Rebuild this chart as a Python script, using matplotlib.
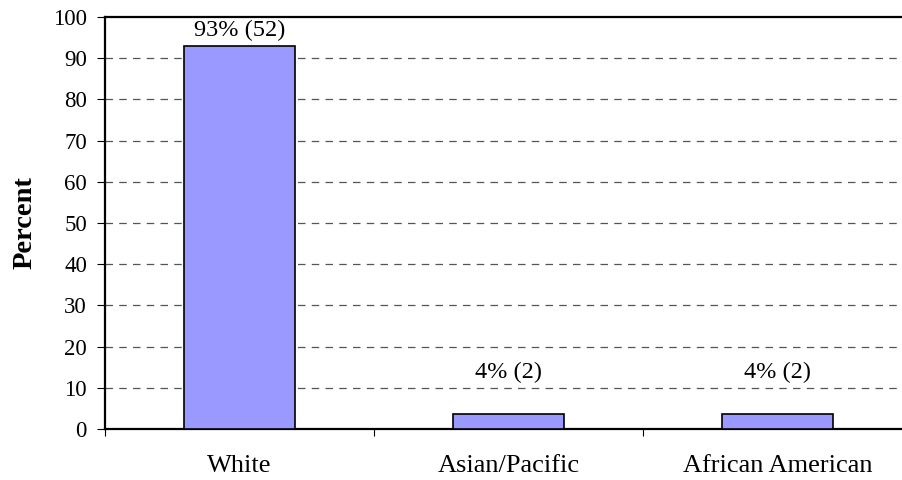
import matplotlib
matplotlib.use("Agg")
import matplotlib.pyplot as plt

categories = ["White", "Asian/Pacific", "African American"]
percent = [92.9, 3.6, 3.6]
labels = ["93% (52)", "4% (2)", "4% (2)"]
yticks = [0, 10, 20, 30, 40, 50, 60, 70, 80, 90, 100]

# label offsets above bar top (points)
label_offsets = [11.5, 30, 30]

plt.rcParams['font.family'] = ['Liberation Serif', 'DejaVu Serif']

fig = plt.figure(figsize=(9.02, 4.8), dpi=100)
ax = fig.add_axes([105/902, 1-429/480, (912-105)/902, (429-17)/480])

x = list(range(len(categories)))
bars = ax.bar(x, percent, width=0.41, color="#9999FF", edgecolor="black", linewidth=1.2, zorder=3)

for xi, v, lab, off in zip(x, percent, labels, label_offsets):
    ax.annotate(lab, (xi, v), xytext=(0, off), textcoords="offset points",
                ha="center", va="center", fontsize=17.5, zorder=4)

ax.set_xlim(-0.5, len(categories) - 0.5)
ax.set_ylim(0, 100)
ax.set_yticks(yticks)
ax.set_yticklabels([str(t) for t in yticks], fontsize=16.5)
ax.set_xticks([i - 0.5 for i in range(len(categories) + 1)])
ax.set_xticklabels([])
ax.set_xticks(x, minor=True)
ax.set_xticklabels(categories, minor=True, fontsize=19)
ax.tick_params(axis="x", which="minor", length=0, pad=19)
ax.tick_params(axis="x", which="major", length=5, width=0.8, direction="out")
ax.tick_params(axis="y", length=6, width=0.8, pad=7)

for yv in yticks[1:-1]:
    ax.axhline(yv, color="#555555", linestyle=(0, (6, 5)), linewidth=0.9, zorder=1)

for s in ["left", "bottom", "top", "right"]:
    ax.spines[s].set_linewidth(1.6)
    ax.spines[s].set_color("black")

ax.set_ylabel("Percent", fontsize=20.5, fontweight="bold", labelpad=11)

fig.savefig("out.png", dpi=100)
